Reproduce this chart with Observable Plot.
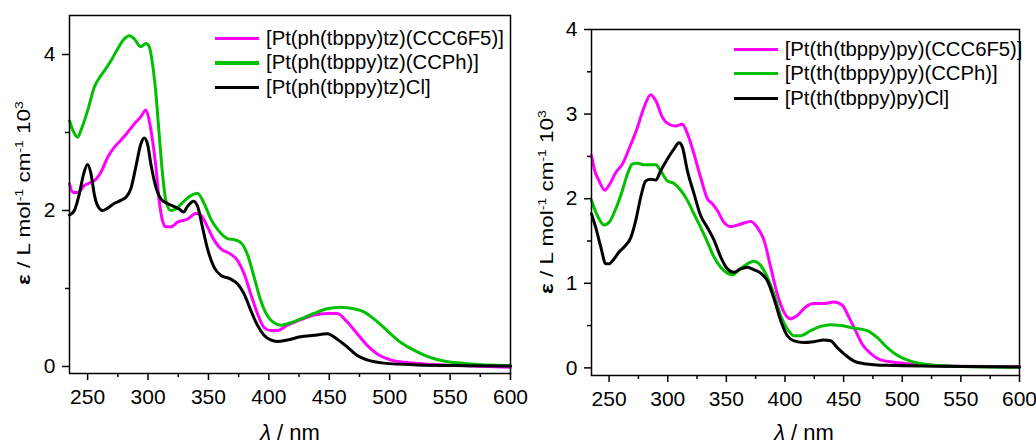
<!DOCTYPE html>
<html>
<head>
<meta charset="utf-8">
<script src="https://cdn.jsdelivr.net/npm/d3@7"></script>
<script src="https://cdn.jsdelivr.net/npm/@observablehq/plot@0.6"></script>
<style>
  html, body { margin: 0; padding: 0; background: #fff; }
  #wrap { position: relative; width: 1036px; height: 446px; overflow: hidden; background: #fff;
          font-family: Arial, "Liberation Sans", sans-serif; color: #000; }
  #wrap svg { position: absolute; top: 0; overflow: visible; }
  .ylab { position: absolute; white-space: nowrap; font-size: 18px; line-height: 1;
          transform: translate(-50%, -50%) rotate(-90deg) scaleX(1.25); }
  .ylab sup { font-size: 0.62em; vertical-align: super; line-height: 0; }
  .xlab { position: absolute; white-space: nowrap; font-size: 22px; line-height: 1;
          transform: translateX(-50%); }
  .leg { position: absolute; display: flex; align-items: center; height: 24px; white-space: nowrap; font-size: 20.3px; }
  .leg .sw { display: inline-block; width: 44px; height: 3.5px; margin-right: 7px; }
</style>
</head>
<body>
<div id="wrap"></div>
<script>
// ---------- data ([wavelength nm, epsilon / 10^3]) ----------
const xTicks = [250, 300, 350, 400, 450, 500, 550, 600];
const xMinorTicks = [275, 325, 375, 425, 475, 525, 575];
const leftYTicks = [0, 2, 4];
const leftYMinor = [1, 3];
const rightYTicks = [0, 1, 2, 3, 4];
const rightYMinor = [0.5, 1.5, 2.5, 3.5];

const colors = ["#ff00ff", "#00c000", "#000000"];
const leftNames = ["[Pt(ph(tbppy)tz)(CCC6F5)]", "[Pt(ph(tbppy)tz)(CCPh)]", "[Pt(ph(tbppy)tz)Cl]"];
const rightNames = ["[Pt(th(tbppy)py)(CCC6F5)]", "[Pt(th(tbppy)py)(CCPh)]", "[Pt(th(tbppy)py)Cl]"];

const leftC6F5 = [[235,2.34],[238,2.23],[241.7,2.23],[247.2,2.32],[252.8,2.36],[256.9,2.4],[261,2.49],[266.5,2.68],[272,2.81],[277.5,2.9],[283,3.0],[288.6,3.11],[294,3.2],[298.2,3.29],[301,3.15],[303.7,2.9],[306.5,2.56],[309.2,2.13],[312,1.87],[314.7,1.79],[318.9,1.79],[324.4,1.85],[332.6,1.89],[339.5,1.96],[343.7,1.94],[349.2,1.79],[354.7,1.62],[360.2,1.51],[368.5,1.44],[374,1.36],[379.5,1.19],[385,0.93],[390.5,0.68],[396,0.5],[401.5,0.46],[407,0.46],[415.3,0.53],[426.3,0.6],[437.3,0.66],[448.3,0.68],[456.6,0.68],[464.9,0.57],[473.1,0.42],[481.4,0.27],[489.7,0.16],[500.7,0.085],[514.5,0.05],[536.5,0.026],[564,0.01],[600,-0.01]];
const leftCCPh = [[235,3.15],[238,3.02],[241.7,2.94],[245,3.05],[250,3.28],[255.5,3.58],[261,3.73],[263.8,3.79],[269.3,3.92],[274.8,4.07],[280.3,4.2],[284.4,4.24],[288.6,4.2],[294,4.1],[298.2,4.14],[301,4.1],[303.7,3.88],[306.5,3.5],[309.2,2.98],[312,2.47],[314.7,2.13],[318.9,2.0],[323,2.02],[328.5,2.1],[335.4,2.19],[340.9,2.22],[346.4,2.09],[352,1.89],[357.4,1.76],[365.7,1.64],[372.6,1.62],[376.7,1.59],[382.2,1.44],[387.7,1.15],[393.2,0.85],[398.8,0.65],[404.3,0.56],[409.8,0.53],[418,0.56],[426.3,0.61],[437.3,0.68],[448.3,0.74],[459.4,0.76],[470.4,0.74],[478.7,0.7],[486.9,0.61],[497.9,0.46],[509,0.31],[520,0.21],[531,0.13],[544.8,0.07],[564,0.035],[600,0.01]];
const leftCl = [[235,1.94],[239,2.0],[243.1,2.21],[246.7,2.47],[250,2.59],[252.8,2.47],[255.5,2.21],[258.3,2.06],[262.4,2.0],[266.5,2.03],[272,2.09],[277.5,2.13],[281.7,2.17],[285.8,2.28],[289.9,2.56],[294,2.85],[296.8,2.93],[299.6,2.85],[302.3,2.6],[306.5,2.3],[310.6,2.15],[316.1,2.09],[321.6,2.05],[325.8,2.02],[329.3,1.98],[332.6,2.05],[337.6,2.12],[340.9,2.06],[345,1.79],[349.2,1.51],[354.7,1.27],[360.2,1.17],[368.5,1.12],[374,1.06],[379.5,0.93],[385,0.72],[390.5,0.53],[396,0.4],[401.5,0.34],[407,0.32],[415.3,0.34],[426.3,0.38],[437.3,0.4],[448.3,0.42],[456.6,0.35],[464.9,0.25],[473.1,0.14],[481.4,0.085],[495.2,0.043],[522.7,0.02],[564,0.01],[600,0.005]];

const rightC6F5 = [[235,2.51],[237.8,2.33],[241.5,2.21],[246.3,2.1],[250,2.16],[255.7,2.31],[261.4,2.41],[267,2.59],[274.1,2.84],[279.8,3.08],[285.5,3.23],[289.8,3.16],[295.5,2.96],[301.1,2.88],[306.8,2.86],[312.5,2.88],[316.8,2.77],[322.4,2.53],[328.1,2.25],[333.8,2.0],[338.1,1.94],[342.3,1.86],[348,1.72],[353.7,1.67],[362.2,1.7],[370.7,1.73],[376.4,1.66],[382.1,1.51],[387.8,1.19],[393.5,0.87],[399.1,0.66],[404.3,0.58],[410.5,0.62],[417.6,0.72],[424.7,0.76],[433.2,0.76],[441.8,0.78],[448.9,0.74],[454.5,0.6],[460.2,0.44],[465.9,0.28],[473,0.17],[481.5,0.095],[492.9,0.067],[515.6,0.04],[544,0.02],[600,0.015]];
const rightCCPh = [[235,1.98],[240,1.8],[245.7,1.69],[250,1.72],[255.7,1.88],[261.4,2.1],[265.6,2.29],[269.9,2.41],[274.1,2.42],[279.8,2.4],[285.5,2.4],[289.8,2.4],[294,2.33],[299.7,2.21],[305.4,2.18],[311.1,2.1],[316.8,1.98],[322.4,1.82],[328.1,1.66],[333.8,1.49],[339.5,1.31],[345.2,1.19],[350.9,1.12],[355.1,1.1],[360.8,1.16],[367.9,1.23],[373.6,1.26],[379.3,1.21],[385,1.07],[390.6,0.87],[396.3,0.62],[402,0.46],[407.7,0.38],[413.4,0.38],[421.9,0.44],[430.4,0.49],[438.9,0.51],[447.4,0.5],[458.8,0.47],[470.1,0.44],[478.6,0.36],[487.2,0.24],[495.7,0.15],[507.1,0.08],[521.3,0.04],[544,0.02],[600,0.008]];
const rightCl = [[235,1.82],[238.6,1.66],[242.9,1.43],[247.2,1.23],[250,1.23],[254.3,1.29],[258.5,1.37],[264.2,1.45],[268.5,1.54],[272.7,1.74],[277,2.02],[281.2,2.21],[285.5,2.23],[289.8,2.22],[294,2.33],[299.7,2.47],[305.4,2.59],[309.7,2.66],[312.5,2.61],[316.8,2.33],[322.4,2.06],[328.1,1.8],[333.8,1.66],[339.5,1.51],[345.2,1.31],[350.9,1.17],[356.5,1.13],[362.2,1.17],[367.9,1.19],[373.6,1.16],[379.3,1.12],[385,1.03],[390.6,0.82],[396.3,0.56],[402,0.38],[407.7,0.32],[416.2,0.3],[424.7,0.31],[433.2,0.33],[438.9,0.32],[444.6,0.24],[451.7,0.15],[458.8,0.08],[467.3,0.05],[487.2,0.03],[529.8,0.02],[600,0.01]];

// ---------- build ----------
const wrap = document.getElementById("wrap");
const FONT = 'Arial, "Liberation Sans", sans-serif';

function toRows(arrs, names) {
  const rows = [];
  arrs.forEach((a, i) => a.forEach(([l, e]) => rows.push({l, e, s: names[i], c: colors[i]})));
  return rows;
}

function panel(opts) {
  const rows = toRows(opts.series, opts.names);
  const svg = Plot.plot({
    width: 518, height: 446,
    marginLeft: opts.ml, marginRight: opts.mr, marginTop: opts.mt, marginBottom: opts.mb,
    x: {domain: [235, 600]},
    y: {domain: opts.yDomain},
    style: {fontFamily: FONT, fontSize: "21px", color: "#000", background: "transparent", overflow: "visible"},
    marks: [
      Plot.axisX({ticks: xTicks, tickSize: 7, tickPadding: 9, strokeWidth: 1.5, label: null, tickFormat: d => String(d)}),
      Plot.axisX({ticks: xMinorTicks, tickSize: 4, strokeWidth: 1.5, label: null, tickFormat: () => ""}),
      Plot.axisY({ticks: opts.yTicks, tickSize: 7, tickPadding: 7, strokeWidth: 1.5, label: null, tickFormat: d => String(d)}),
      Plot.axisY({ticks: opts.yMinor, tickSize: 4, strokeWidth: 1.5, label: null, tickFormat: () => ""}),
      Plot.line(rows, {x: "l", y: "e", z: "s", stroke: "c", strokeWidth: 3, curve: "monotone-x", strokeLinejoin: "round"}),
      Plot.frame({stroke: "#000", strokeWidth: 1.5})
    ]
  });
  svg.style.left = opts.left + "px";
  wrap.appendChild(svg);

  const yl = document.createElement("div");
  yl.className = "ylab";
  yl.innerHTML = '<b>ε</b> / L mol<sup>-1</sup> cm<sup>-1</sup> 10<sup>3</sup>';
  yl.style.left = opts.ylx + "px"; yl.style.top = opts.yly + "px";
  wrap.appendChild(yl);

  const xl = document.createElement("div");
  xl.className = "xlab";
  xl.innerHTML = '<i>λ</i> / nm';
  xl.style.left = opts.xlx + "px"; xl.style.top = "422px";
  wrap.appendChild(xl);

  opts.names.forEach((n, i) => {
    const d = document.createElement("div");
    d.className = "leg";
    d.style.left = opts.legX + "px";
    d.style.top = (opts.legY[i] - 12) + "px";
    d.innerHTML = `<span class="sw" style="background:${colors[i]}"></span><span>${n}</span>`;
    wrap.appendChild(d);
  });
}

panel({
  series: [leftC6F5, leftCCPh, leftCl], names: leftNames,
  left: 0, ml: 69, mr: 8, mt: 15, mb: 73,
  yDomain: [-0.09, 4.5], yTicks: leftYTicks, yMinor: leftYMinor,
  ylx: 23.5, yly: 193, xlx: 290,
  legX: 215, legY: [38.5, 62.8, 87.7]
});
panel({
  series: [rightC6F5, rightCCPh, rightCl], names: rightNames,
  left: 518, ml: 73, mr: 17, mt: 29, mb: 71,
  yDomain: [-0.09, 4], yTicks: rightYTicks, yMinor: rightYMinor,
  ylx: 546.5, yly: 201.5, xlx: 804,
  legX: 733.7, legY: [49.3, 73.3, 98.3]
});
</script>
</body>
</html>
